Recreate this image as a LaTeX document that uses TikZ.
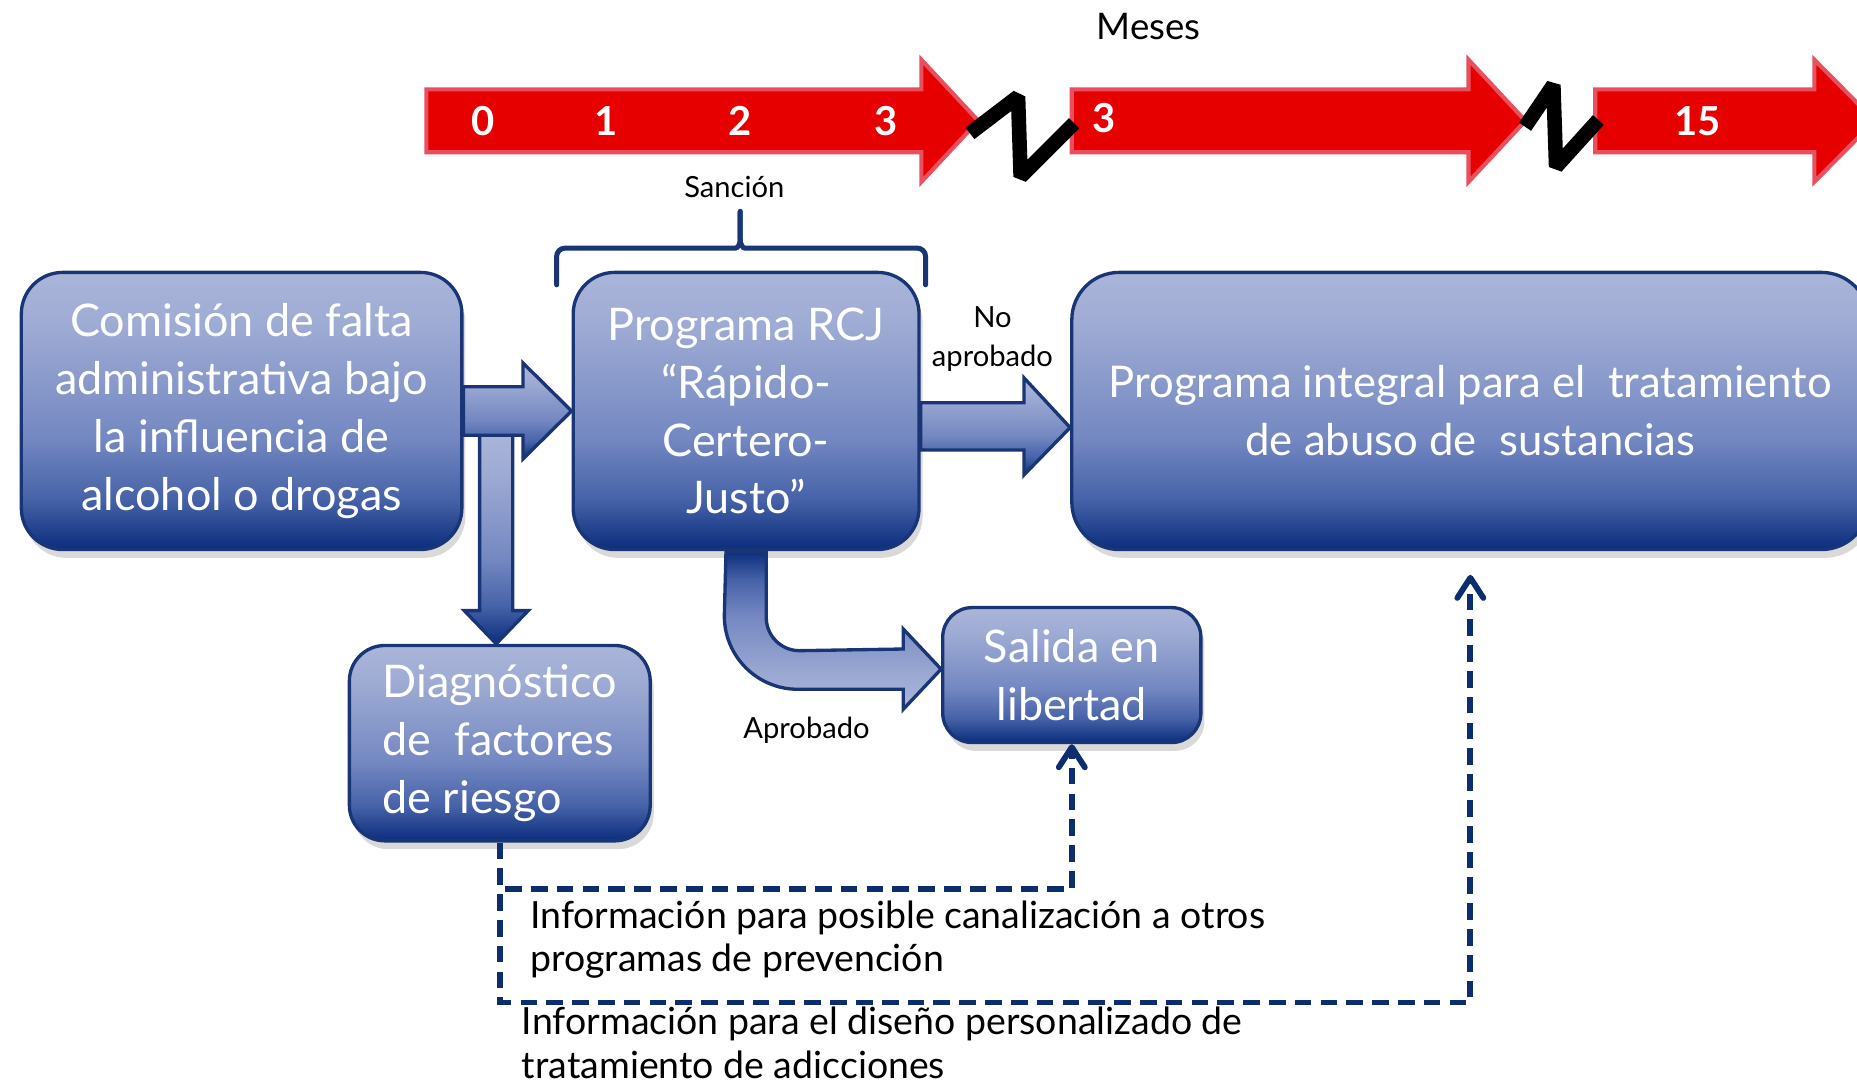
\documentclass[tikz,border=0pt]{standalone}
\usepackage{fontspec}
\setmainfont{Lato}
\usetikzlibrary{arrows.meta, shadows}
\definecolor{boxtop}{HTML}{AAB5D9}
\definecolor{boxup}{HTML}{9DAAD3}
\definecolor{boxmid}{HTML}{7387C1}
\definecolor{boxlow}{HTML}{4662A8}
\definecolor{boxbot}{HTML}{0B2D7C}
\definecolor{boxline}{HTML}{1A3575}
\definecolor{dashnavy}{HTML}{0C2D6E}
\definecolor{tlred}{HTML}{E60000}
\definecolor{tledge}{HTML}{E8505F}

\pgfdeclareverticalshading{boxgrad}{100bp}{color(0bp)=(boxbot); color(25bp)=(boxbot);
  color(34bp)=(boxlow); color(45bp)=(boxmid); color(65bp)=(boxup);
  color(75bp)=(boxtop); color(100bp)=(boxtop)}

\begin{document}
\begin{tikzpicture}[
  >={Straight Barb[round, length=1.7mm, width=2.2mm]},
  stage/.style={
    shade, shading=boxgrad, draw=boxline, line width=0.8pt, rounded corners=3.5mm,
    text=white, align=center, inner sep=2pt, font={\fontsize{10.8}{13.9}\selectfont},
    drop shadow={opacity=0.3, shadow xshift=0.3mm, shadow yshift=-0.7mm}
  },
  blockarr/.style={shade, shading=boxgrad, draw=boxline, line width=0.8pt},
  tlarrow/.style={fill=tlred, draw=tledge, line width=1pt},
  tlnum/.style={text=white, font={\fontsize{9.6}{10}\selectfont\bfseries}},
  breakmark/.style={line width=3.5pt, line join=bevel},
  lbl/.style={font={\fontsize{7}{9.4}\selectfont}, align=center},
  infonote/.style={font={\fontsize{9}{10.5}\selectfont}, align=left, anchor=west, inner sep=0pt},
  dasharr/.style={->, dashnavy, line width=1.4pt, dash pattern=on 4pt off 2.2pt},
]

\useasboundingbox (0,0) rectangle (15.68,9.14);

% =============================================
% Timeline
% =============================================
\node[font={\fontsize{8.8}{10}\selectfont}] (meses) at (9.70,8.92) {Meses};

\foreach \xs/\xh/\xt in {3.60/7.78/8.26, 9.05/12.40/12.88, 13.47/15.32/15.83}
  \draw[tlarrow] (\xs,8.385) -- (\xh,8.385) -- (\xh,8.635) -- (\xt,8.12)
    -- (\xh,7.605) -- (\xh,7.855) -- (\xs,7.855) -- cycle;

\foreach \v/\xx in {0/4.08, 1/5.12, 2/6.245, 3/7.48}
  \node[tlnum] (m\v) at (\xx,8.12) {\v};
\node[tlnum] (m3b) at (9.32,8.14) {3};
\node[tlnum] (m15) at (14.335,8.12) {15};

% Breaks in the time axis
\draw[breakmark] (8.19,8.014) -- (8.596,8.324) -- (8.618,7.648) -- (9.069,8.099);
\draw[breakmark] (12.877,8.07) -- (13.116,8.422) -- (13.139,7.732) -- (13.496,8.127);

% Sanction brace
\node[lbl] (sancion) at (6.20,7.56) {Sanción};
\draw[boxline, line width=1.2pt, rounded corners=2pt, line cap=round]
  (4.70,6.735) -- (4.70,7.045) -- (6.14,7.045)
  .. controls (6.23,7.045) and (6.25,7.08) .. (6.25,7.19) -- (6.25,7.355);
\draw[boxline, line width=1.2pt, rounded corners=2pt, line cap=round]
  (7.815,6.735) -- (7.815,7.045) -- (6.36,7.045)
  .. controls (6.27,7.045) and (6.25,7.08) .. (6.25,7.19) -- (6.25,7.355);

% =============================================
% Stages
% =============================================
\node[stage, minimum width=3.72cm, minimum height=2.34cm] (comision) at (2.04,5.67)
  {Comisión de falta\\administrativa bajo\\la influencia de\\alcohol o drogas};
\node[stage, minimum width=2.92cm, minimum height=2.34cm] (rcj) at (6.30,5.67)
  {Programa RCJ\\“Rápido-\\Certero-\\Justo”};
\node[stage, minimum width=6.73cm, minimum height=2.34cm, rounded corners=4mm,
      font={\fontsize{10.5}{13.9}\selectfont}] (integral) at (12.415,5.67)
  {Programa integral para el~ tratamiento\\de abuso de~ sustancias};
\node[stage, align=left, minimum width=2.54cm, minimum height=1.65cm, rounded corners=3mm] (diag) at (4.22,2.865)
  {Diagnóstico\\de~ factores\\de riesgo};
\node[stage, minimum width=2.18cm, minimum height=1.14cm, rounded corners=2.5mm] (salida) at (9.05,3.44)
  {Salida en\\libertad};

% =============================================
% Block arrows
% =============================================
\path[blockarr] ([xshift=-1.7mm,yshift=17.75mm]diag.north) -- ([xshift=-1.7mm,yshift=2.8mm]diag.north)
  -- ([xshift=-3mm,yshift=2.8mm]diag.north) -- ([xshift=-0.3mm]diag.north)
  -- ([xshift=2.4mm,yshift=2.8mm]diag.north) -- ([xshift=1.1mm,yshift=2.8mm]diag.north)
  -- ([xshift=1.1mm,yshift=17.75mm]diag.north) -- cycle;

\path[blockarr] ([yshift=2.05mm]comision.east) -- ([xshift=-4.1mm,yshift=2.05mm]rcj.west)
  -- ([xshift=-4.1mm,yshift=4.05mm]rcj.west) -- (rcj.west)
  -- ([xshift=-4.1mm,yshift=-4.05mm]rcj.west) -- ([xshift=-4.1mm,yshift=-2.05mm]rcj.west)
  -- ([yshift=-2.05mm]comision.east) -- cycle;

\path[blockarr] ([yshift=0.7mm]rcj.east) -- ([xshift=-3.9mm,yshift=0.7mm]integral.west)
  -- ([xshift=-3.9mm,yshift=2.8mm]integral.west) -- ([yshift=-1.4mm]integral.west)
  -- ([xshift=-3.9mm,yshift=-5.4mm]integral.west) -- ([xshift=-3.9mm,yshift=-3.3mm]integral.west)
  -- ([yshift=-3.3mm]rcj.east) -- cycle;

\path[blockarr, shading angle=180] ([xshift=1.7mm]rcj.south) -- ++(0,-5.6mm)
  arc[start angle=180, end angle=270, radius=2.8mm]
  -- ([xshift=-3.2mm,yshift=2.2mm]salida.west) -- ++(0,1.7mm)
  -- ([yshift=0.5mm]salida.west)
  -- ([xshift=-3.2mm,yshift=-2.9mm]salida.west) -- ++(0,1.7mm)
  -- ++(-8.9mm,0)
  arc[start angle=270, end angle=180, radius=6.2mm]
  -- ([xshift=-1.7mm]rcj.south) -- cycle;

\node[lbl] (noaprob) at (8.38,6.275) {No\\aprobado};
\node[lbl] (aprob) at (6.81,2.97) {Aprobado};

% =============================================
% Information flow
% =============================================
\draw[dasharr] (diag.south) -- ++(0,-0.39) -| (salida.south);
\draw[dasharr] (diag.south) -- ++(0,-1.35) -| ([yshift=-2mm]integral.south);

\node[infonote] (canal) at (4.47,1.205)
  {Información para posible canalización a otros\\programas de prevención};
\node[infonote] (disenio) at (4.40,0.335)
  {Información para el diseño personalizado de\\tratamiento de adicciones};

\end{tikzpicture}
\end{document}
